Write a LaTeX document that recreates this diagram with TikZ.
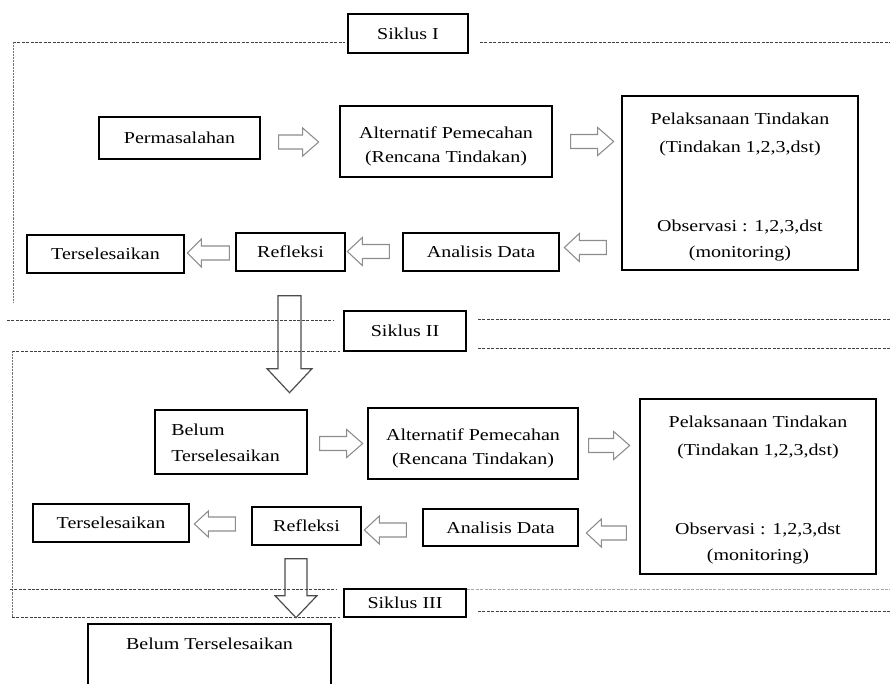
\documentclass[tikz,border=0pt]{standalone}
\usepackage{fontspec}
\setmainfont{Liberation Serif}[FakeStretch=1.2]
\usetikzlibrary{calc}
\begin{document}
\begin{tikzpicture}[x=0.75pt,y=-0.75pt,
  every node/.style={font=\fontsize{12.5pt}{15pt}\selectfont, inner sep=0pt},
  wh/.style 2 args={minimum width=#1*0.75pt, minimum height=#2*0.75pt},
  bx/.style={draw=black, line width=1pt},
  txt/.style={anchor=base},
  arrowline/.style={draw=gray!90, line width=0.8pt, fill=white},
  darrowline/.style={draw=black!70, line width=0.9pt},
  frame/.style={draw=black!75, line width=0.6pt, dash pattern=on 2.2pt off 1.1pt},
  vframe/.style={draw=black!55, line width=0.7pt, dash pattern=on 0.6pt off 0.5pt},
  pics/barr/.style n args={5}{code={
    \path[#5] (0,-#2) -- ({#1-#4},-#2) -- ({#1-#4},-#3) -- (#1,0) -- ({#1-#4},#3) -- ({#1-#4},#2) -- (0,#2) -- cycle;}}]
\clip (0,0) rectangle (890,683);
\useasboundingbox (0,0) rectangle (890,683);

% frame lines
\draw[frame] (13,42) -- (345,42);
\draw[frame] (480,42) -- (890,42);
\draw[vframe] (13,42) -- (13,303);
\draw[frame] (7,320) -- (333,320);
\draw[frame] (478,319) -- (890,319);
\draw[frame] (478,348) -- (890,348);
\draw[frame] (12,351) -- (340,351);
\draw[vframe] (12,351) -- (12,617);
\draw[frame] (10,589) -- (337,589);
\draw[frame,draw=gray!70] (467,589) -- (890,589);
\draw[frame] (478,611) -- (890,611);
\draw[frame] (12,617) -- (340,617);

% Siklus I
\node[bx,wh={120}{39}] (s1) at (408,33.5) {Siklus I};
\node[bx,wh={161}{42}] (perm1) at (179.5,138) {Permasalahan};
\node[bx,wh={212}{71}] (alt1) at (446,141.5) {};
\node[txt] (alt1a) at (446,138) {Alternatif Pemecahan};
\node[txt] (alt1b) at (446,162) {(Rencana Tindakan)};
\node[bx,wh={236}{174}] (pel1) at (740,183) {};
\node[txt] (pel1a) at (740,124) {Pelaksanaan Tindakan};
\node[txt] (pel1b) at (740,152) {(Tindakan 1,2,3,dst)};
\node[txt] (pel1c) at (740,231) {Observasi : 1,2,3,dst};
\node[txt] (pel1d) at (740,257) {(monitoring)};
\node[bx,wh={157}{38}] (ters1) at (105.5,254) {Terselesaikan};
\node[bx,wh={109}{38}] (ref1) at (290.5,252) {Refleksi};
\node[bx,wh={156}{38}] (ana1) at (481,252) {Analisis Data};

% Siklus II
\node[bx,wh={122}{40}] (s2) at (405,331) {Siklus II};
\node[bx,wh={152}{64}] (bel2) at (231,442) {};
\node[txt,anchor=base west] (bel2a) at (171,435) {Belum};
\node[txt,anchor=base west] (bel2b) at (171,461) {Terselesaikan};
\node[bx,wh={210}{71}] (alt2) at (473,443.5) {};
\node[txt] (alt2a) at (473,440) {Alternatif Pemecahan};
\node[txt] (alt2b) at (473,464) {(Rencana Tindakan)};
\node[bx,wh={236}{175}] (pel2) at (758,486.5) {};
\node[txt] (pel2a) at (758,427) {Pelaksanaan Tindakan};
\node[txt] (pel2b) at (758,455) {(Tindakan 1,2,3,dst)};
\node[txt] (pel2c) at (758,534) {Observasi : 1,2,3,dst};
\node[txt] (pel2d) at (758,560) {(monitoring)};
\node[bx,wh={156}{38}] (ters2) at (111,523) {Terselesaikan};
\node[bx,wh={109}{38}] (ref2) at (306.5,526) {Refleksi};
\node[bx,wh={155}{37}] (ana2) at (500.5,527.5) {Analisis Data};

% Siklus III
\node[bx,wh={122}{28}] (s3) at (405,603) {Siklus III};
\node[bx,wh={243}{76}] (bel3) at (209.5,662) {};
\node[txt] (bel3a) at (209.5,649) {Belum Terselesaikan};

% block arrows, cycle I
\pic at ($(perm1.east)+(18,4)$) {barr={40}{7}{14}{16}{arrowline}};
\pic at ($(alt1.east)+(18,0)$) {barr={43}{7}{14}{16}{arrowline}};
\pic[rotate=180] at ($(pel1.west)+(-15,64.5)$) {barr={42}{7}{14}{15}{arrowline}};
\pic[rotate=180] at ($(ana1.west)+(-13,-0.5)$) {barr={42}{7}{14}{15}{arrowline}};
\pic[rotate=180] at ($(ref1.west)+(-6,1)$) {barr={42}{7}{14}{14}{arrowline}};
\pic[rotate=-90] at ($(ref1.south)+(-1,24)$) {barr={97}{11.5}{22.5}{24}{darrowline}};

% block arrows, cycle II
\pic at ($(bel2.east)+(12,1.5)$) {barr={43}{7}{14}{16}{arrowline}};
\pic at ($(alt2.east)+(10,2)$) {barr={41}{7}{14}{16}{arrowline}};
\pic[rotate=180] at ($(pel2.west)+(-13,46.5)$) {barr={40}{7}{14}{15}{arrowline}};
\pic[rotate=180] at ($(ana2.west)+(-16,2.5)$) {barr={42}{7}{14}{15}{arrowline}};
\pic[rotate=180] at ($(ref2.west)+(-16,-2)$) {barr={41}{7}{13}{14}{arrowline}};
\pic[rotate=-90] at ($(ref2.south)+(-10.5,13)$) {barr={59}{11}{21}{22}{darrowline}};
\end{tikzpicture}
\end{document}
